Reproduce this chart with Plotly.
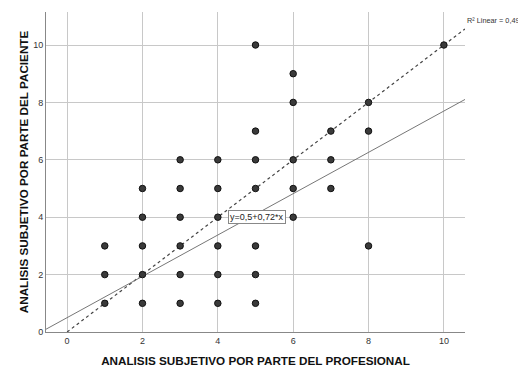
import plotly.graph_objects as go

# Data (professional vs patient subjective analysis)
profesional = [1, 1, 1,
               2, 2, 2, 2, 2,
               3, 3, 3, 3, 3, 3,
               4, 4, 4, 4, 4, 4,
               5, 5, 5, 5, 5, 5, 5,
               6, 6, 6, 6, 6,
               7, 7, 7,
               8, 8, 8,
               10]
paciente = [1, 2, 3,
            1, 2, 3, 4, 5,
            1, 2, 3, 4, 5, 6,
            1, 2, 3, 4, 5, 6,
            1, 2, 3, 5, 6, 7, 10,
            4, 5, 6, 8, 9,
            5, 6, 7,
            3, 7, 8,
            10]

fit_intercept = 0.5
fit_slope = 0.72
fit_label = "y=0,5+0,72*x"
r2_label = "R\u00b2 Linear = 0,49"

x_range = [-0.56, 10.56]
y_range = [0, 11.15]
tick_vals = [0, 2, 4, 6, 8, 10]

fig = go.Figure()

# Reference line y = x (dashed)
fig.add_trace(go.Scatter(
    x=[0, x_range[1]], y=[0, x_range[1]], mode="lines",
    line=dict(color="#444444", width=1.2, dash="3px,3px"),
    hoverinfo="skip", showlegend=False))

# Fit line
fig.add_trace(go.Scatter(
    x=[x_range[0], x_range[1]],
    y=[fit_intercept + fit_slope * x_range[0], fit_intercept + fit_slope * x_range[1]],
    mode="lines", line=dict(color="#777777", width=1),
    hoverinfo="skip", showlegend=False))

# Points
fig.add_trace(go.Scatter(
    x=profesional, y=paciente, mode="markers",
    marker=dict(size=6.5, color="#3a3a3a", line=dict(color="#111111", width=1)),
    showlegend=False))

font_family = "Liberation Sans, Arial, sans-serif"

fig.add_annotation(
    x=4.27, y=4, xref="x", yref="y", text=fit_label, showarrow=False,
    xanchor="left", yanchor="middle",
    font=dict(family=font_family, size=9, color="#222222"),
    bgcolor="white", bordercolor="#888888", borderwidth=1, borderpad=1)

fig.add_annotation(
    x=1.0, y=0.975, xref="paper", yref="paper", text=r2_label, showarrow=False,
    xanchor="left", yanchor="middle",
    font=dict(family=font_family, size=7.3, color="#333333"))

# The page adds an 8px body margin, so the figure is 8px smaller and margins shifted.
fig.update_layout(
    width=518, height=359,
    margin=dict(l=38, r=61, t=4, b=35),
    paper_bgcolor="white", plot_bgcolor="white",
    font=dict(family=font_family, color="#222222"),
    xaxis=dict(
        range=x_range, tickvals=tick_vals, showgrid=True, gridcolor="#c8c8c8", gridwidth=1,
        zeroline=False, showline=True, linecolor="#888888", linewidth=1, automargin=False,
        ticks="", tickfont=dict(size=9, color="#333333"),
        title=dict(text="<b>ANALISIS SUBJETIVO POR PARTE DEL PROFESIONAL</b>",
                   font=dict(size=11.7, color="#111111"), standoff=12)),
    yaxis=dict(
        range=y_range, tickvals=tick_vals, showgrid=True, gridcolor="#c8c8c8", gridwidth=1,
        zeroline=False, showline=True, linecolor="#888888", linewidth=1, automargin=False,
        ticks="", tickfont=dict(size=9, color="#333333"),
        title=dict(text="<b>ANALISIS SUBJETIVO POR PARTE DEL PACIENTE</b>",
                   font=dict(size=11.7, color="#111111"), standoff=2)),
)

fig.write_html("out.html", config={"displayModeBar": False})
